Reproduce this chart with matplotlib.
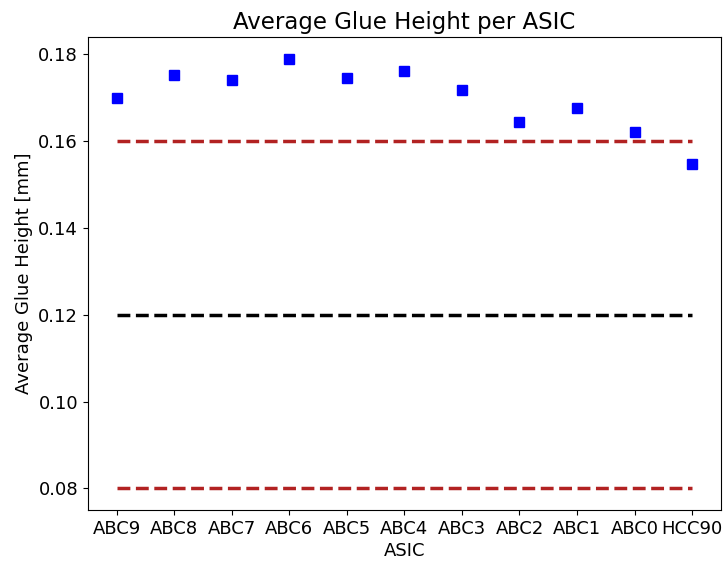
import matplotlib
matplotlib.use("Agg")
import matplotlib.pyplot as plt

asics = ["ABC9", "ABC8", "ABC7", "ABC6", "ABC5", "ABC4", "ABC3", "ABC2", "ABC1", "ABC0", "HCC90"]
glue_height = [0.1700, 0.1752, 0.1741, 0.1790, 0.1746, 0.1762, 0.1717, 0.1644, 0.1676, 0.1622, 0.1547]
nominal = 0.12
limits = [0.08, 0.16]

plt.rcParams["font.size"] = 13
fig, ax = plt.subplots(figsize=(7.26, 5.64), dpi=100)
fig.subplots_adjust(left=0.121, right=0.993, top=0.934, bottom=0.096)

x = list(range(len(asics)))
ax.plot(x, glue_height, "s", color="blue", ms=7)
ax.plot(x, [nominal] * len(x), "--", color="black", lw=2.5)
for lim in limits:
    ax.plot(x, [lim] * len(x), "--", color="firebrick", lw=2.5)

ax.set_xticks(x)
ax.set_xticklabels(asics)
ax.set_xlabel("ASIC", labelpad=3)
ax.set_ylabel("Average Glue Height [mm]")
ax.set_title("Average Glue Height per ASIC", fontsize=16.5)
fig.savefig("out.png", dpi=100)
